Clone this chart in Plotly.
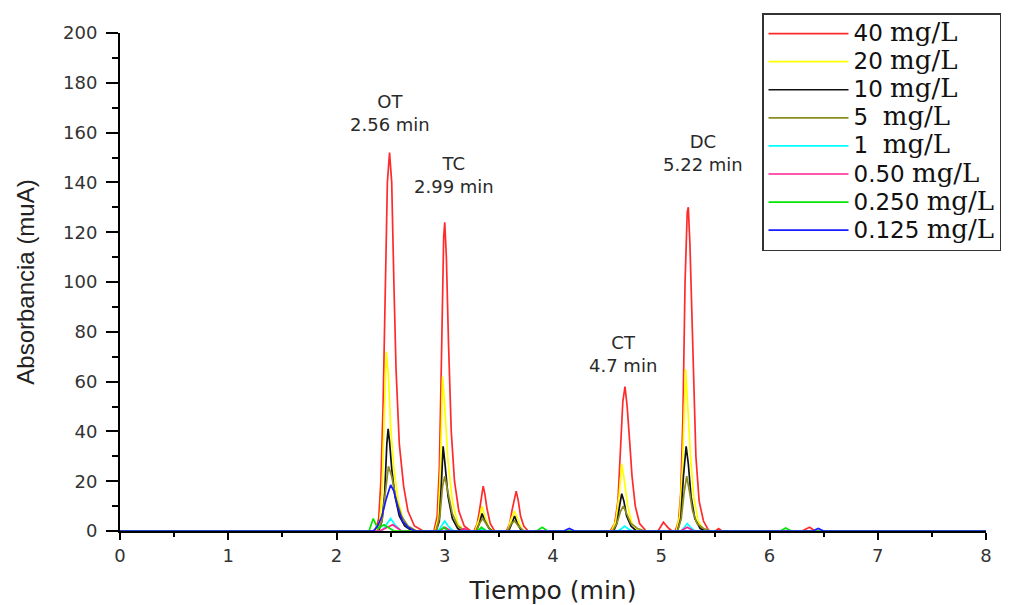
import plotly.graph_objects as go

# ---- data ----
t_40 = [0, 2.36, 2.39, 2.41, 2.43, 2.45, 2.47, 2.49, 2.51, 2.53, 2.55, 2.58, 2.62, 2.66, 2.72, 2.80,
        2.90, 2.93, 2.95, 2.97, 2.99, 3.00, 3.015, 3.035, 3.06, 3.09, 3.13, 3.18, 3.24,
        3.27, 3.30, 3.32, 3.34, 3.355, 3.37, 3.39, 3.42, 3.46,
        3.57, 3.60, 3.62, 3.645, 3.66, 3.68, 3.70, 3.73, 3.77,
        4.53, 4.57, 4.60, 4.625, 4.645, 4.665, 4.685, 4.705, 4.73, 4.76, 4.80, 4.86,
        4.97, 5.02, 5.07, 5.10,
        5.13, 5.16, 5.18, 5.20, 5.22, 5.24, 5.25, 5.265, 5.28, 5.30, 5.32, 5.35, 5.39, 5.44,
        5.50, 5.53, 5.56, 6.30, 6.37, 6.42, 8]
y_40 = [0, 0, 5, 20, 50, 100, 140, 152, 140, 100, 65, 35, 18, 8, 2, 0,
        0, 6, 25, 70, 118, 124, 110, 75, 40, 20, 8, 2, 0,
        0, 3, 8, 14, 18, 15, 9, 3, 0,
        0, 3, 8, 14, 16, 12, 6, 2, 0,
        0, 3, 12, 35, 52, 58, 50, 38, 22, 10, 3, 0,
        0, 3.5, 1, 0,
        0, 4, 15, 45, 100, 128, 130, 115, 90, 55, 30, 12, 4, 0,
        0, 1, 0, 0, 1.5, 0, 0]

t_20 = [0, 2.37, 2.40, 2.42, 2.44, 2.46, 2.48, 2.50, 2.53, 2.57, 2.62, 2.68,
        2.91, 2.94, 2.96, 2.98, 3.00, 3.03, 3.07, 3.12, 3.18,
        3.28, 3.32, 3.345, 3.37, 3.41, 3.45,
        3.58, 3.615, 3.645, 3.68, 3.72,
        4.54, 4.58, 4.61, 4.635, 4.66, 4.69, 4.73, 4.79,
        5.14, 5.17, 5.195, 5.215, 5.225, 5.245, 5.27, 5.30, 5.34, 5.40, 8]
y_20 = [0, 0, 4, 15, 45, 72, 62, 42, 25, 12, 4, 0,
        0, 5, 25, 62, 50, 28, 12, 3, 0,
        0, 5, 10, 6, 1, 0,
        0, 5, 8, 4, 0,
        0, 4, 14, 27, 20, 10, 3, 0,
        0, 6, 25, 55, 65, 50, 30, 14, 4, 0, 0]

t_10 = [0, 2.39, 2.42, 2.445, 2.465, 2.477, 2.49, 2.51, 2.54, 2.58, 2.63, 2.70,
        2.92, 2.95, 2.97, 2.985, 3.00, 3.03, 3.07, 3.12, 3.16,
        3.29, 3.32, 3.345, 3.37, 3.41, 3.44,
        3.59, 3.62, 3.645, 3.67, 3.71,
        4.56, 4.59, 4.615, 4.635, 4.655, 4.68, 4.72, 4.77,
        5.15, 5.18, 5.205, 5.23, 5.25, 5.275, 5.31, 5.36, 5.41, 8]
y_10 = [0, 0, 4, 15, 35, 41, 36, 25, 14, 6, 2, 0,
        0, 4, 20, 34, 28, 14, 5, 1, 0,
        0, 3, 7, 4, 1, 0,
        0, 3, 6, 3, 0,
        0, 3, 10, 15, 12, 6, 2, 0,
        0, 5, 22, 34, 27, 14, 5, 1, 0, 0]

t_5 = [0, 2.38, 2.42, 2.45, 2.48, 2.51, 2.55, 2.60, 2.66, 2.74,
       2.92, 2.955, 2.98, 3.00, 3.03, 3.07, 3.12, 3.19,
       3.29, 3.32, 3.35, 3.38, 3.43,
       3.58, 3.615, 3.645, 3.68, 3.73,
       4.55, 4.59, 4.625, 4.65, 4.68, 4.72, 4.78, 4.85,
       5.15, 5.185, 5.21, 5.235, 5.26, 5.29, 5.33, 5.39, 5.46, 8]
y_5 = [0, 0, 4, 14, 26, 22, 13, 6, 2, 0,
       0, 6, 18, 22, 15, 7, 2, 0,
       0, 3, 5, 3, 0,
       0, 3, 4, 2, 0,
       0, 3, 8, 10, 7, 3, 1, 0,
       0, 5, 15, 22, 16, 8, 3, 1, 0, 0]

t_1 = [0, 2.42, 2.46, 2.50, 2.54, 2.60,
       2.94, 2.97, 3.00, 3.03, 3.08,
       3.31, 3.35, 3.39,
       4.60, 4.635, 4.66, 4.69, 4.73,
       5.18, 5.215, 5.24, 5.27, 5.31, 8]
y_1 = [0, 0, 2.5, 5, 2.5, 0,
       0, 2, 4, 2, 0,
       0, 1, 0,
       0, 1, 2, 1, 0,
       0, 1.5, 3, 1.5, 0, 0]

t_050 = [0, 2.40, 2.47, 2.52, 2.60, 2.95, 3.00, 3.06, 3.14, 3.18, 3.22, 5.18, 5.24, 5.30, 8]
y_050 = [0, 0, 1.5, 2.5, 0, 0, 1.5, 0, 0, 1, 0, 0, 1.5, 0, 0]

t_0250 = [0, 2.30, 2.34, 2.38, 2.44, 2.48, 2.53, 2.95, 2.99, 3.03, 3.30, 3.34, 3.38,
          3.85, 3.90, 3.95, 6.10, 6.15, 6.20, 8]
y_0250 = [0, 0, 5, 1, 2.5, 1.5, 0, 0, 1.5, 0, 0, 1.5, 0,
          0, 1.5, 0, 0, 1.2, 0, 0]

t_0125 = [0, 2.34, 2.38, 2.42, 2.46, 2.50, 2.53, 2.57, 2.61, 2.66, 2.72,
          4.10, 4.15, 4.20, 6.40, 6.45, 6.50, 8]
y_0125 = [0, 0, 2, 6, 13, 18.5, 16, 9, 4, 1.5, 0,
          0, 1, 0, 0, 1, 0, 0]

series_labels = ["40 ", "20 ", "10 ", "5  ", "1  ", "0.50 ", "0.250 ", "0.125 "]
series_t = [t_40, t_20, t_10, t_5, t_1, t_050, t_0250, t_0125]
series_y = [y_40, y_20, y_10, y_5, y_1, y_050, y_0250, y_0125]
series_colors = ["#FF2A2A", "#FFFF00", "#111111", "#8C8C20", "#00FFFF", "#FF2090", "#00E800", "#1A1AFF"]

peak_names = ["OT", "TC", "CT", "DC"]
peak_times = ["2.56 min", "2.99 min", "4.7 min", "5.22 min"]
label_x = [2.49, 3.09, 4.65, 5.385]
label_y = [168, 143, 71, 152]

# page has an 8px body margin: figure is sized/placed to compensate
W, H = 1010, 597
PL, PR, PT, PB = 112, 32, 25, 74

fig = go.Figure()
for lab, t, y, c in zip(series_labels, series_t, series_y, series_colors):
    name = ('<span style="font-family:DejaVu Sans;font-size:23px">' + lab.replace(" ", "&nbsp;") + '</span>'
            '<span style="font-family:DejaVu Serif;font-size:26px">mg/L</span>')
    fig.add_trace(go.Scatter(x=t, y=y, mode="lines", name=name,
                             line=dict(color=c, width=1.7)))

for n, tm, x, y in zip(peak_names, peak_times, label_x, label_y):
    fig.add_annotation(x=x, y=y, text=n + "<br>" + tm, showarrow=False,
                       font=dict(family="DejaVu Sans", size=18, color="#2a2a2a"),
                       align="center")

pw = W - PL - PR
ph = H - PT - PB
fig.update_layout(
    width=W, height=H,
    margin=dict(l=PL, r=PR, t=PT, b=PB, autoexpand=False),
    paper_bgcolor="white", plot_bgcolor="white",
    showlegend=True,
    legend=dict(x=(762 - 8 - PL) / pw, y=(ph + PT - (13 - 8)) / ph, xanchor="left", yanchor="top",
                bgcolor="white", bordercolor="#333333", borderwidth=1.5,
                font=dict(size=19.3, color="#111111"), itemwidth=80,
                tracegroupgap=0),
    xaxis=dict(range=[0, 8], dtick=1, showgrid=False, zeroline=False,
               showline=True, linecolor="black", linewidth=2,
               ticks="outside", ticklen=7, tickwidth=2, tickcolor="black",
               minor=dict(dtick=0.5, ticks="outside", ticklen=4, tickwidth=2, tickcolor="black"),
               tickfont=dict(family="DejaVu Sans", size=18, color="#333333"),
               title=dict(text="Tiempo (min)", standoff=19,
                          font=dict(family="DejaVu Sans", size=25, color="#222222"))),
    yaxis=dict(range=[0, 200], dtick=20, showgrid=False, zeroline=False,
               showline=True, linecolor="black", linewidth=2,
               ticks="outside", ticklen=12, tickwidth=2, tickcolor="black",
               ticklabelstandoff=5,
               minor=dict(dtick=10, ticks="outside", ticklen=6, tickwidth=2, tickcolor="black"),
               tickfont=dict(family="DejaVu Sans", size=18, color="#333333"),
               title=dict(text="Absorbancia (muA)", standoff=22,
                          font=dict(family="Liberation Sans", size=24, color="#222222"))),
)

fig.write_html("out.html")
